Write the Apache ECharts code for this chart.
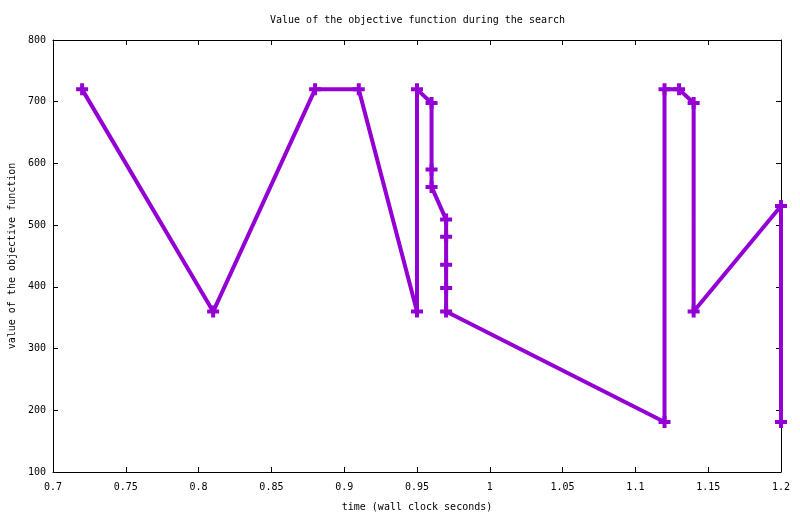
<!DOCTYPE html>
<html>
<head>
<meta charset="utf-8">
<script src="https://cdn.jsdelivr.net/npm/echarts@6/dist/echarts.min.js"></script>
<style>html,body{margin:0;padding:0;background:#fff;}#c{width:800px;height:514px;}</style>
</head>
<body>
<div id="c"></div>
<script>
var times = [0.72, 0.81, 0.88, 0.91, 0.95, 0.95, 0.96, 0.96, 0.96, 0.97, 0.97, 0.97, 0.97, 0.97, 1.12, 1.12, 1.13, 1.14, 1.14, 1.20, 1.20];
var values = [720, 360, 720, 720, 360, 720, 698, 590, 562, 509, 481, 436, 398, 360, 181, 720, 720, 698, 360, 531, 181];
var titleText = 'Value of the objective function during the search';
var xName = 'time (wall clock seconds)';
var yName = 'value of the objective function';

var pts = times.map(function (t, i) { return [t, values[i]]; });
var F = 'DejaVu Sans Mono, monospace';
var plus = 'path://M4,0H8V4H12V8H8V12H4V8H0V4H4Z';
var chart = echarts.init(document.getElementById('c'));
chart.setOption({
  animation: false,
  backgroundColor: '#fff',
  title: { text: titleText, left: 265, top: 10,
    textStyle: { fontFamily: F, fontSize: 10, fontWeight: 'normal', color: '#000' } },
  grid: { left: 53, right: 19, top: 40, bottom: 42, outerBoundsMode: 'none', containLabel: false },
  xAxis: [{
    type: 'value', min: 0.7, max: 1.2, interval: 0.05,
    name: xName, nameLocation: 'middle', nameGap: 30,
    nameTextStyle: { fontFamily: F, fontSize: 10, color: '#000' },
    axisLine: { lineStyle: { color: '#000', width: 1 } },
    axisTick: { inside: true, length: 5, lineStyle: { color: '#000' } },
    axisLabel: { fontFamily: F, fontSize: 10, color: '#000', margin: 10,
      formatter: function (v) { return String(+v.toFixed(2)); } },
    splitLine: { show: false }
  }, {
    type: 'value', position: 'top', min: 0.7, max: 1.2, interval: 0.05,
    axisLine: { show: true, lineStyle: { color: '#000', width: 1 } },
    axisTick: { inside: true, length: 5, lineStyle: { color: '#000' } },
    axisLabel: { show: false }, splitLine: { show: false }
  }],
  yAxis: [{
    type: 'value', min: 100, max: 800, interval: 100,
    name: yName, nameLocation: 'middle', nameGap: 36, nameRotate: 90,
    nameTextStyle: { fontFamily: F, fontSize: 10, color: '#000' },
    axisLine: { show: true, lineStyle: { color: '#000', width: 1 } },
    axisTick: { show: true, inside: true, length: 5, lineStyle: { color: '#000' } },
    axisLabel: { fontFamily: F, fontSize: 10, color: '#000', margin: 7 },
    splitLine: { show: false }
  }, {
    type: 'value', position: 'right', min: 100, max: 800, interval: 100,
    axisLine: { show: true, lineStyle: { color: '#000', width: 1 } },
    axisTick: { show: true, inside: true, length: 5, lineStyle: { color: '#000' } },
    axisLabel: { show: false }, splitLine: { show: false }
  }],
  series: [{
    type: 'line', data: pts, xAxisIndex: 0, yAxisIndex: 0,
    symbol: plus, symbolSize: 12, showAllSymbol: true,
    lineStyle: { color: '#9400D3', width: 4 },
    itemStyle: { color: '#9400D3' },
    z: 1
  }]
});
</script>
</body>
</html>
